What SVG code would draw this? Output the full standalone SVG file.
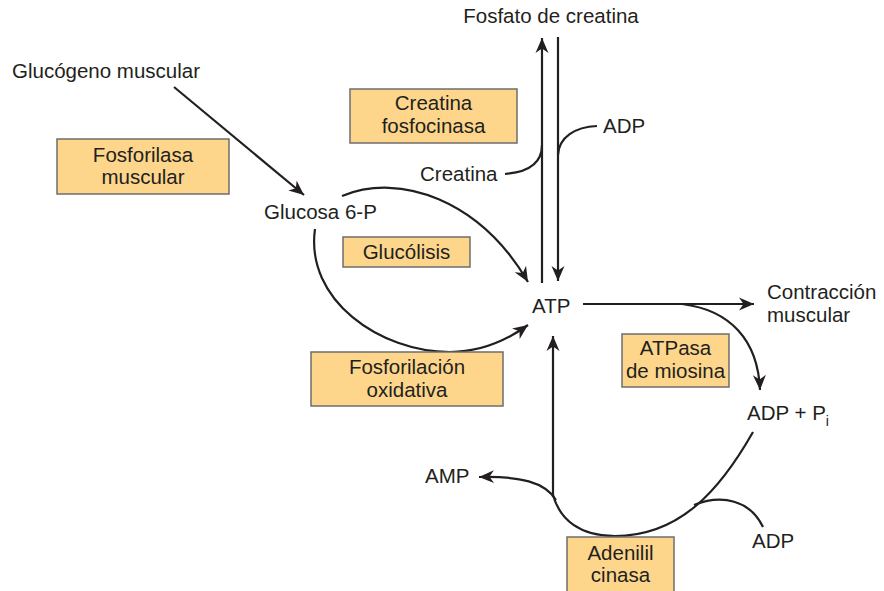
<svg xmlns="http://www.w3.org/2000/svg" width="884" height="591" viewBox="0 0 884 591">
<style>
.t{font-family:"Liberation Sans",Arial,sans-serif;font-size:20.5px;fill:#231f20}
.c{text-anchor:middle}
.box{fill:#fdd68b;stroke:#6d6d6d;stroke-width:1.5}
.ln{fill:none;stroke:#231f20;stroke-width:2.2}
.ar{marker-end:url(#ah)}
</style>
<defs>
<marker id="ah" viewBox="-15 -7 16 14" refX="0" refY="0" markerWidth="16" markerHeight="14" markerUnits="userSpaceOnUse" orient="auto">
<path d="M0,0 L-15,-6.5 L-10.5,0 L-15,6.5 Z" fill="#231f20"/>
</marker>
</defs>
<rect width="884" height="591" fill="#fff"/>
<g id="connectors">
<path class="ln ar" d="M174,87 L304,195"/>
<path class="ln ar" d="M542,283 L542,38"/>
<path class="ln ar" d="M558,37 L558,281"/>
<path class="ln" d="M505,174 C530,172 542,162 542,145"/>
<path class="ln" d="M597,126 C575,127 559,137 558,155"/>
<path class="ln ar" d="M342,196 C400,172 480,200 528,282"/>
<path class="ln ar" d="M315,229 C305,300 380,352 450,352 C485,352 510,338 528,325"/>
<path class="ln ar" d="M583,304 L754,304"/>
<path class="ln ar" d="M682,304 C730,310 758,340 760,390"/>
<path class="ln" d="M753,432 C720,490 680,536 615,536 C580,536 560,520 553,495"/>
<path class="ln ar" d="M553,497 L553,336"/>
<path class="ln ar" d="M556,500 C545,482 520,476 479,477"/>
<path class="ln" d="M763,527 C750,500 722,494 694,505"/>
</g>
<g id="fosfato"><text class="t c" x="551" y="23">Fosfato de creatina</text></g>
<g id="glucogeno"><text class="t" x="12" y="78">Glucógeno muscular</text></g>
<g id="creatina"><text class="t" x="420" y="181">Creatina</text></g>
<g id="adp1"><text class="t" x="603" y="133">ADP</text></g>
<g id="glucosa"><text class="t" x="264" y="219">Glucosa 6-P</text></g>
<g id="atp"><text class="t" x="532" y="313">ATP</text></g>
<g id="contraccion"><text class="t" x="767" y="299">Contracción</text><text class="t" x="767" y="322">muscular</text></g>
<g id="adppi"><text class="t" x="747" y="420">ADP + P<tspan font-size="14" dy="6">i</tspan></text></g>
<g id="amp"><text class="t" x="425" y="483">AMP</text></g>
<g id="adp2"><text class="t" x="752" y="548">ADP</text></g>
<g id="cpk"><rect class="box" x="350" y="89" width="167" height="54"/><text class="t c" x="433.5" y="110">Creatina</text><text class="t c" x="433.5" y="133">fosfocinasa</text></g>
<g id="fosforilasa"><rect class="box" x="57" y="139" width="172" height="55"/><text class="t c" x="143" y="162">Fosforilasa</text><text class="t c" x="143" y="184">muscular</text></g>
<g id="glucolisis"><rect class="box" x="343" y="237" width="127" height="30"/><text class="t c" x="406.5" y="259">Glucólisis</text></g>
<g id="oxidativa"><rect class="box" x="311" y="352" width="192" height="54"/><text class="t c" x="407" y="374">Fosforilación</text><text class="t c" x="407" y="397">oxidativa</text></g>
<g id="atpasa"><rect class="box" x="622" y="334" width="107" height="53"/><text class="t c" x="675.5" y="355">ATPasa</text><text class="t c" x="675.5" y="378">de miosina</text></g>
<g id="adenilil"><rect class="box" x="567" y="537" width="107" height="60"/><text class="t c" x="620.5" y="560">Adenilil</text><text class="t c" x="620.5" y="582">cinasa</text></g>
</svg>
